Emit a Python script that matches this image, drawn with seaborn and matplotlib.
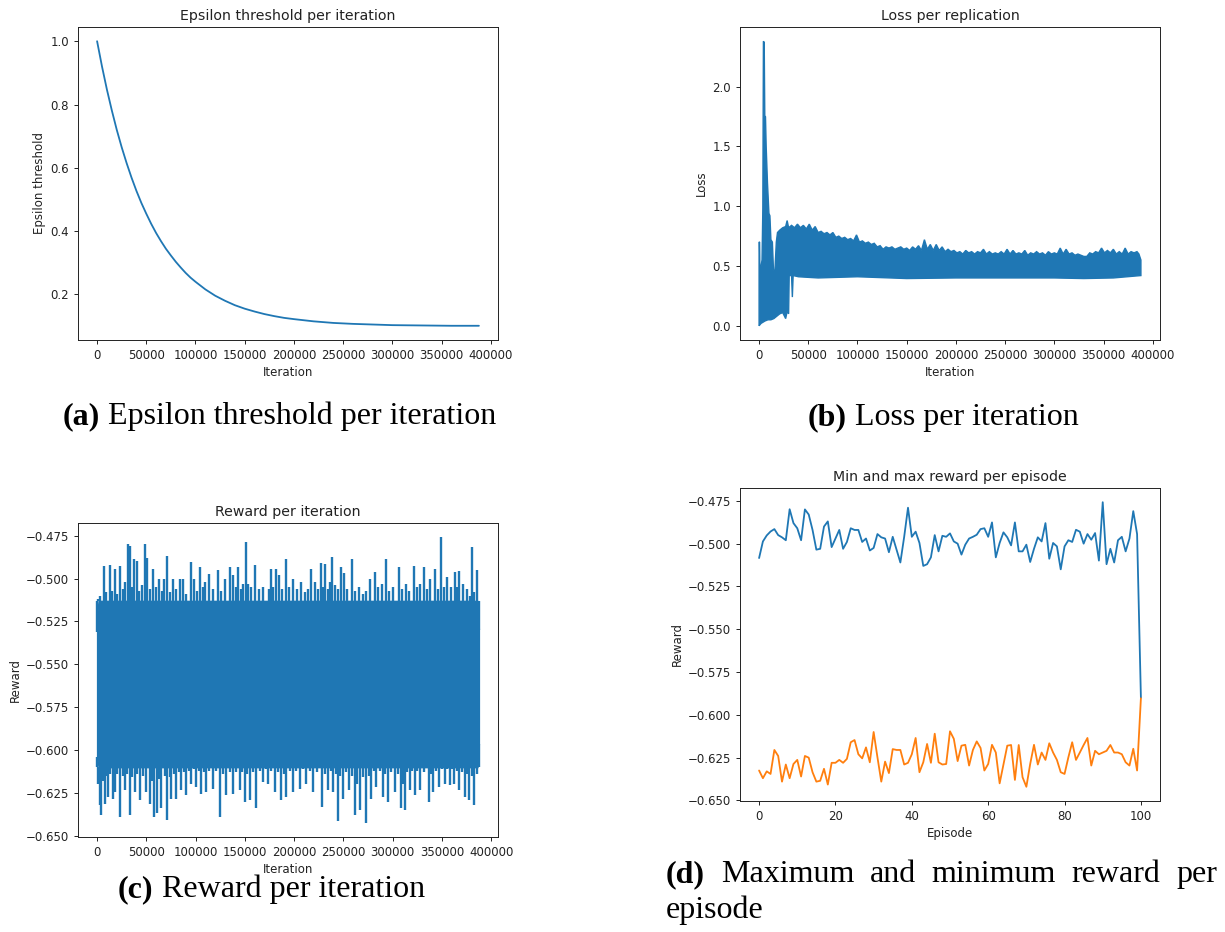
import matplotlib
matplotlib.use("Agg")
import matplotlib.pyplot as plt
import seaborn as sns
import pandas as pd
from matplotlib.ticker import MultipleLocator

# ---- (a) epsilon threshold ----
eps_iter = [0, 5000, 10000, 15000, 20000, 25000, 30000, 35000, 40000, 45000, 50000,
            55000, 60000, 65000, 70000, 75000, 80000, 85000, 90000, 95000, 100000,
            110000, 120000, 130000, 140000, 150000, 160000, 170000, 180000, 190000,
            200000, 220000, 240000, 260000, 280000, 300000, 330000, 360000, 388000]
eps_value = [1.000, 0.920, 0.847, 0.781, 0.720, 0.665, 0.615, 0.569, 0.527, 0.489, 0.455,
             0.423, 0.394, 0.368, 0.344, 0.323, 0.303, 0.285, 0.268, 0.253, 0.240,
             0.216, 0.196, 0.180, 0.166, 0.155, 0.146, 0.138, 0.1315, 0.126,
             0.122, 0.115, 0.110, 0.107, 0.105, 0.103, 0.102, 0.101, 0.101]

# ---- (b) loss per iteration: upper / lower envelope of the dense trace ----
loss_top_iter = [0, 500, 1000, 2000, 3000, 3800, 4400, 5200, 5800, 6500, 7200, 8500, 10000,
                 11000, 12000, 13500, 14600, 16000, 17500, 18700, 21000, 24000, 27000, 28500,
                 30000, 33000, 36000, 39000, 42000, 45000, 48000, 51000, 54000, 57000, 60000,
                 63000, 66000, 69000, 72000, 75000, 78000, 81000, 84000, 87000, 90000, 93000,
                 96000, 99000, 102000, 105000, 108000, 111000, 114000, 117000, 120000, 123000,
                 126000, 129000, 132000, 135000, 138000, 141000, 144000, 147000, 150000, 153000,
                 156000, 159000, 162000, 165000, 168000, 171000, 174000, 177000, 180000, 183000,
                 186000, 189000, 192000, 195000, 198000, 201000, 204000, 207000, 210000, 213000,
                 216000, 219000, 222000, 225000, 228000, 231000, 234000, 237000, 240000, 243000,
                 246000, 249000, 252000, 255000, 258000, 261000, 264000, 267000, 270000, 273000,
                 276000, 279000, 282000, 285000, 288000, 291000, 294000, 297000, 300000, 303000,
                 306000, 309000, 312000, 315000, 318000, 321000, 324000, 327000, 330000, 333000,
                 336000, 339000, 342000, 345000, 348000, 351000, 354000, 357000, 360000, 363000,
                 366000, 369000, 372000, 375000, 378000, 381000, 384000, 386000, 388000]
loss_top = [0.70, 0.70, 0.30, 0.50, 0.55, 0.98, 2.38, 2.37, 1.75, 1.75, 1.50, 1.20, 0.94,
            0.92, 0.72, 0.70, 0.47, 0.45, 0.70, 0.78, 0.80, 0.82, 0.83, 0.88,
            0.82, 0.84, 0.82, 0.85, 0.82, 0.84, 0.81, 0.85, 0.80, 0.83, 0.78,
            0.79, 0.77, 0.78, 0.76, 0.78, 0.74, 0.75, 0.73, 0.74, 0.72, 0.73,
            0.71, 0.76, 0.70, 0.71, 0.69, 0.70, 0.68, 0.69, 0.66, 0.67,
            0.64, 0.66, 0.65, 0.66, 0.64, 0.65, 0.66, 0.64, 0.65, 0.63,
            0.66, 0.64, 0.67, 0.63, 0.72, 0.64, 0.68, 0.63, 0.68, 0.63,
            0.66, 0.62, 0.64, 0.62, 0.63, 0.61, 0.62, 0.60, 0.63, 0.61,
            0.62, 0.60, 0.62, 0.61, 0.64, 0.60, 0.62, 0.60, 0.61, 0.60,
            0.62, 0.60, 0.64, 0.60, 0.63, 0.60, 0.61, 0.60, 0.63, 0.59,
            0.61, 0.60, 0.62, 0.60, 0.61, 0.59, 0.62, 0.60, 0.61, 0.60,
            0.65, 0.60, 0.64, 0.60, 0.61, 0.59, 0.60, 0.59, 0.58, 0.58,
            0.61, 0.60, 0.62, 0.61, 0.65, 0.61, 0.63, 0.61, 0.64, 0.60,
            0.62, 0.60, 0.65, 0.60, 0.62, 0.61, 0.62, 0.60, 0.55]
loss_bottom_iter = [0, 1000, 2000, 4000, 6000, 9000, 12000, 15000, 18000, 21000, 24000,
                    27000, 28500, 30000, 30600, 33000, 33800, 34600, 40000, 60000, 100000,
                    150000, 200000, 250000, 300000, 330000, 360000, 388000]
loss_bottom = [0.00, 0.01, 0.02, 0.03, 0.04, 0.05, 0.05, 0.06, 0.08, 0.10, 0.11,
               0.06, 0.12, 0.10, 0.42, 0.42, 0.24, 0.42, 0.41, 0.40, 0.41,
               0.395, 0.40, 0.40, 0.40, 0.395, 0.40, 0.42]

# ---- (c) reward per iteration ----
# solid core of the trace
reward_core_iter = [0, 1500, 386000, 387500]
reward_core_hi = [-0.521, -0.513, -0.513, -0.530]
reward_core_lo = [-0.604, -0.610, -0.610, -0.596]
# peaks sticking out above the core
reward_top_iter = [0, 1000, 3000, 6800, 9000, 12800, 15000, 17900, 20000, 23000, 26000, 28000,
                   31400, 33500, 35500, 37500, 40000, 42500, 46000, 49000, 51000, 53500, 56800,
                   60000, 63000, 66000, 68000, 71300, 74000, 77000, 80000, 84000, 87000, 90000,
                   92000, 95000, 98000, 101000, 104000, 107000, 110000, 114000, 118000, 122700,
                   126000, 130000, 134500, 138000, 141000, 143000, 146000, 148000, 150800, 153000,
                   156000, 160000, 164000, 168000, 171700, 174000, 176800, 179000, 182000, 185000,
                   188000, 192000, 195000, 199000, 203000, 207000, 211000, 214000, 217400, 221000,
                   224000, 226800, 229000, 231000, 234000, 236000, 238700, 241000, 245000, 248000,
                   251000, 254000, 259000, 262000, 266000, 270000, 273000, 277000, 281600, 285000,
                   289000, 292800, 296000, 300000, 306000, 309000, 313000, 317000, 322000, 325000,
                   328000, 332000, 335000, 338000, 342500, 346000, 349000, 352000, 355000, 359000,
                   362800, 365000, 367800, 371000, 375000, 378000, 380700, 383000, 385700, 387500]
reward_top = [-0.531, -0.512, -0.510, -0.4926, -0.508, -0.4923, -0.507, -0.4946, -0.509, -0.4926,
              -0.506, -0.502, -0.4799, -0.481, -0.505, -0.4883, -0.490, -0.507, -0.504, -0.480,
              -0.488, -0.506, -0.4946, -0.505, -0.500, -0.507, -0.500, -0.4866, -0.508, -0.500,
              -0.506, -0.500, -0.500, -0.509, -0.5208, -0.4905, -0.500, -0.507, -0.4931, -0.505,
              -0.502, -0.4974, -0.506, -0.4950, -0.507, -0.500, -0.4930, -0.498, -0.505, -0.4931,
              -0.506, -0.503, -0.4789, -0.503, -0.505, -0.4923, -0.506, -0.505, -0.5129, -0.506,
              -0.4945, -0.505, -0.4945, -0.498, -0.506, -0.4886, -0.505, -0.500, -0.506, -0.502,
              -0.508, -0.506, -0.4945, -0.502, -0.506, -0.4911, -0.505, -0.4915, -0.506, -0.502,
              -0.4876, -0.504, -0.506, -0.4930, -0.497, -0.506, -0.4886, -0.507, -0.505, -0.509,
              -0.507, -0.500, -0.4963, -0.505, -0.503, -0.4886, -0.507, -0.505, -0.4933, -0.506,
              -0.503, -0.507, -0.4924, -0.505, -0.503, -0.4934, -0.506, -0.500, -0.4944, -0.506,
              -0.4759, -0.505, -0.499, -0.505, -0.4963, -0.505, -0.4953, -0.503, -0.506, -0.510,
              -0.4818, -0.508, -0.4950, -0.530]
# troughs sticking out below the core
reward_bottom_iter = [0, 1000, 2700, 4400, 6000, 7800, 9500, 11200, 13500, 16200, 17900, 20500,
                      23700, 26000, 28100, 30500, 33100, 35500, 38200, 41000, 43300, 47000, 50000,
                      53400, 55500, 57500, 60900, 63000, 65200, 68500, 71300, 73500, 75400, 78000,
                      80500, 83000, 85500, 88000, 90600, 93000, 95700, 98000, 100700, 103000,
                      105800, 108500, 110900, 114000, 117600, 121000, 125100, 128000, 131200,
                      134500, 137900, 141000, 144700, 147000, 149800, 152000, 154800, 158000,
                      161600, 165000, 168400, 171000, 173400, 177000, 180200, 183500, 187000,
                      189500, 192000, 195500, 198800, 202000, 205500, 209000, 212300, 216000,
                      219000, 223000, 228500, 231500, 234300, 237000, 239400, 242000, 244400,
                      247000, 249500, 252500, 255600, 258500, 261300, 264000, 266400, 269500,
                      272500, 275500, 278200, 281000, 283300, 287000, 290000, 292500, 295100,
                      298500, 301900, 305000, 308700, 310500, 312000, 314500, 317100, 319500,
                      322200, 325000, 327300, 332000, 336700, 338800, 340800, 344000, 346900,
                      350000, 352600, 355000, 357700, 360000, 362700, 365000, 367800, 370500,
                      372900, 375000, 377300, 380000, 383000, 385700, 387400]
reward_bottom = [-0.604, -0.6196, -0.6322, -0.638, -0.618, -0.6312, -0.615, -0.6273, -0.614,
                 -0.6283, -0.6244, -0.614, -0.639, -0.615, -0.6234, -0.614, -0.638, -0.616,
                 -0.6244, -0.614, -0.6292, -0.615, -0.6244, -0.6312, -0.618, -0.6393, -0.637,
                 -0.617, -0.6341, -0.615, -0.6409, -0.616, -0.6283, -0.614, -0.6283, -0.613,
                 -0.6234, -0.613, -0.6263, -0.612, -0.6196, -0.611, -0.6215, -0.612, -0.6254,
                 -0.613, -0.6244, -0.612, -0.6225, -0.612, -0.639, -0.614, -0.6263, -0.613,
                 -0.6254, -0.613, -0.6234, -0.613, -0.6302, -0.614, -0.6292, -0.613, -0.6341,
                 -0.612, -0.6186, -0.611, -0.6196, -0.612, -0.6244, -0.613, -0.6292, -0.614,
                 -0.6273, -0.612, -0.6244, -0.612, -0.6225, -0.611, -0.6196, -0.612, -0.6244,
                 -0.613, -0.6331, -0.614, -0.6234, -0.612, -0.6244, -0.614, -0.6415, -0.615,
                 -0.6283, -0.613, -0.6234, -0.615, -0.638, -0.620, -0.6351, -0.616, -0.6424,
                 -0.615, -0.6283, -0.612, -0.6215, -0.612, -0.6273, -0.614, -0.6302, -0.613,
                 -0.6244, -0.614, -0.6341, -0.620, -0.6351, -0.613, -0.6234, -0.612, -0.6263,
                 -0.612, -0.6234, -0.613, -0.6302, -0.614, -0.6244, -0.612, -0.6215, -0.611,
                 -0.6196, -0.611, -0.6205, -0.611, -0.6196, -0.612, -0.6234, -0.613, -0.6273,
                 -0.614, -0.6292, -0.615, -0.6322, -0.6137, -0.5963]

# ---- (d) max and min reward per episode ----
episodes = list(range(101))
max_reward = [-0.5084, -0.4987, -0.4952, -0.4929, -0.4915, -0.4950, -0.4963, -0.4980, -0.4799, -0.4880,
              -0.4910, -0.4980, -0.4800, -0.4830, -0.4920, -0.5035, -0.5030, -0.4900, -0.4870, -0.5020,
              -0.4970, -0.4920, -0.5030, -0.4990, -0.4910, -0.4920, -0.4920, -0.4990, -0.4970, -0.5040,
              -0.5025, -0.4944, -0.4963, -0.4970, -0.5050, -0.4960, -0.5035, -0.5110, -0.4960, -0.4790,
              -0.4960, -0.4930, -0.4996, -0.5130, -0.5120, -0.5080, -0.4950, -0.5045, -0.4954, -0.4960,
              -0.4940, -0.4987, -0.5000, -0.5064, -0.5006, -0.4970, -0.4960, -0.4948, -0.4915, -0.4910,
              -0.4960, -0.4876, -0.5080, -0.4996, -0.4934, -0.4963, -0.5010, -0.4876, -0.5045, -0.5045,
              -0.5006, -0.5107, -0.5030, -0.4963, -0.4987, -0.4880, -0.5088, -0.4996, -0.5016, -0.5150,
              -0.5016, -0.4980, -0.4990, -0.4919, -0.4930, -0.5000, -0.4944, -0.4977, -0.4938, -0.5099,
              -0.4758, -0.5120, -0.5030, -0.5110, -0.4980, -0.4960, -0.5045, -0.4970, -0.4810, -0.4944,
              -0.5900]
min_reward = [-0.6325, -0.6370, -0.6330, -0.6345, -0.6205, -0.6240, -0.6390, -0.6290, -0.6370, -0.6287,
              -0.6263, -0.6360, -0.6240, -0.6250, -0.6335, -0.6390, -0.6385, -0.6315, -0.6407, -0.6280,
              -0.6280, -0.6263, -0.6280, -0.6257, -0.6160, -0.6147, -0.6230, -0.6254, -0.6190, -0.6277,
              -0.6100, -0.6248, -0.6390, -0.6273, -0.6340, -0.6200, -0.6205, -0.6205, -0.6290, -0.6280,
              -0.6230, -0.6135, -0.6335, -0.6277, -0.6170, -0.6280, -0.6110, -0.6277, -0.6290, -0.6287,
              -0.6096, -0.6140, -0.6270, -0.6180, -0.6175, -0.6296, -0.6205, -0.6155, -0.6193, -0.6325,
              -0.6287, -0.6175, -0.6220, -0.6400, -0.6290, -0.6180, -0.6176, -0.6380, -0.6176, -0.6364,
              -0.6420, -0.6287, -0.6175, -0.6290, -0.6220, -0.6263, -0.6166, -0.6220, -0.6263, -0.6335,
              -0.6345, -0.6248, -0.6160, -0.6263, -0.6220, -0.6176, -0.6135, -0.6296, -0.6210, -0.6230,
              -0.6220, -0.6210, -0.6176, -0.6220, -0.6220, -0.6230, -0.6277, -0.6296, -0.6198, -0.6325,
              -0.5903]

BLUE = "#1f77b4"
ORANGE = "#ff7f0e"

sns.set_theme(style="ticks", rc={
    "axes.edgecolor": "#222222", "axes.linewidth": 0.7,
    "xtick.major.size": 3, "ytick.major.size": 3,
    "xtick.major.width": 0.7, "ytick.major.width": 0.7,
    "xtick.labelsize": 8.5, "ytick.labelsize": 8.5,
    "axes.labelsize": 8.5, "axes.titlesize": 10.2,
    "axes.labelpad": 3, "axes.titlepad": 5,
    "text.color": "#222222", "axes.labelcolor": "#222222",
    "xtick.color": "#222222", "ytick.color": "#222222",
})
plt.rcParams["font.family"] = ["DejaVu Sans"]

W, H = 1225, 932
fig = plt.figure(figsize=(W / 100, H / 100), dpi=100)


def box(left, top, right, bottom):
    return [left / W, 1 - bottom / H, (right - left) / W, (bottom - top) / H]


ax_a = fig.add_axes(box(78, 27, 498, 340))
ax_b = fig.add_axes(box(740, 27, 1160, 340))
ax_c = fig.add_axes(box(78, 523, 498, 837))
ax_d = fig.add_axes(box(740, 488, 1160, 801))

# (a)
sns.lineplot(x=eps_iter, y=eps_value, ax=ax_a, color=BLUE, linewidth=1.3)
ax_a.set_title("Epsilon threshold per iteration")
ax_a.set_xlabel("Iteration")
ax_a.set_ylabel("Epsilon threshold")
ax_a.xaxis.set_major_locator(MultipleLocator(50000))

# (b)
ax_b.fill(loss_top_iter + loss_bottom_iter[::-1], loss_top + loss_bottom[::-1],
          color=BLUE, linewidth=1.0, edgecolor=BLUE)
ax_b.set_title("Loss per replication")
ax_b.set_xlabel("Iteration")
ax_b.set_ylabel("Loss")
ax_b.xaxis.set_major_locator(MultipleLocator(50000))
ax_b.yaxis.set_major_locator(MultipleLocator(0.5))

# (c)
ax_c.fill_between(reward_core_iter, reward_core_lo, reward_core_hi, color=BLUE, linewidth=1.0,
                  edgecolor=BLUE)
ax_c.vlines(reward_top_iter, reward_core_hi[1], reward_top, color=BLUE, linewidth=1.7)
ax_c.vlines(reward_bottom_iter, reward_bottom, reward_core_lo[1], color=BLUE, linewidth=1.7)
ax_c.set_title("Reward per iteration")
ax_c.set_xlabel("Iteration")
ax_c.set_ylabel("Reward")
ax_c.xaxis.set_major_locator(MultipleLocator(50000))
ax_c.yaxis.set_major_locator(MultipleLocator(0.025))

# (d)
df_d = pd.DataFrame({"Episode": episodes, "max": max_reward, "min": min_reward})
sns.lineplot(data=df_d, x="Episode", y="max", ax=ax_d, color=BLUE, linewidth=1.3)
sns.lineplot(data=df_d, x="Episode", y="min", ax=ax_d, color=ORANGE, linewidth=1.3)
ax_d.set_title("Min and max reward per episode")
ax_d.set_xlabel("Episode")
ax_d.set_ylabel("Reward")
ax_d.yaxis.set_major_locator(MultipleLocator(0.025))

for ax in (ax_a, ax_b, ax_c, ax_d):
    ax.margins(x=0.05, y=0.05)
    ax.autoscale_view()

# captions under each panel (bold label + plain text)
cap = dict(family=["Liberation Serif", "DejaVu Serif"], fontsize=23, color="black",
           va="baseline")
renderer = fig.canvas.get_renderer()
SPACE = 8


def put(x, y, s, **kw):
    t = fig.text(x / W, 1 - y / H, s, ha="left", **cap, **kw)
    return t.get_window_extent(renderer).width


def caption(x0, y, label, text):
    w = put(x0, y, label, fontweight="bold")
    put(x0 + w + SPACE, y, text)


caption(63, 424, "(a)", "Epsilon threshold per iteration")
caption(808, 425, "(b)", "Loss per iteration")
caption(118, 897, "(c)", "Reward per iteration")

# (d) caption: first line justified between 666 and 1217
words = ["Maximum", "and", "minimum", "reward", "per"]
lab = fig.text(0, 0, "(d)", fontweight="bold", **cap)
widths = [lab.get_window_extent(renderer).width]
lab.remove()
for wd in words:
    t = fig.text(0, 0, wd, **cap)
    widths.append(t.get_window_extent(renderer).width)
    t.remove()
gap = (1217 - 666 - sum(widths)) / len(words)
x = 666
put(x, 882, "(d)", fontweight="bold")
x += widths[0] + gap
for wd, wdt in zip(words, widths[1:]):
    put(x, 882, wd)
    x += wdt + gap
put(666, 918, "episode")

fig.savefig("out.png", dpi=100)
